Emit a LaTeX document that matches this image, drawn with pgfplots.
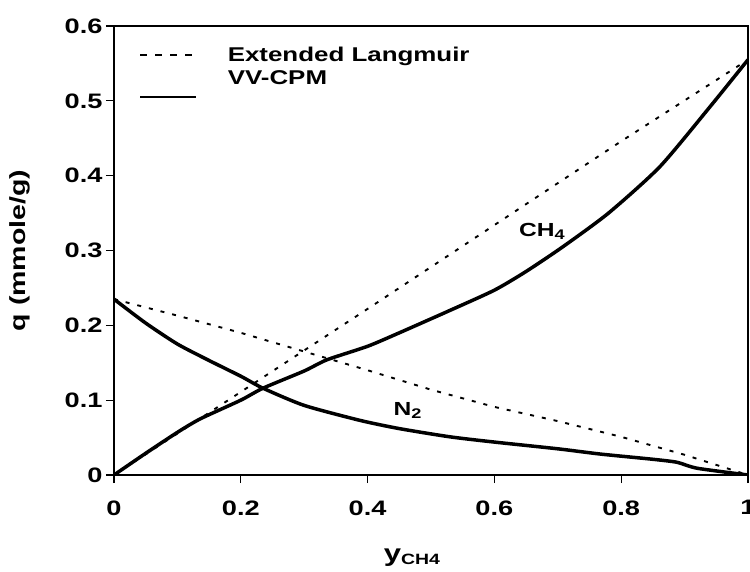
\documentclass[border=0pt]{standalone}
\usepackage{fontspec}
\setmainfont{Liberation Sans}[FakeStretch=1.3]
\usepackage{pgfplots}
\pgfplotsset{compat=1.18}
\usepackage{pgfplotstable}

% Extended Langmuir predictions
\pgfplotstableread{
x q
0 0
0.2 0.111
0.4 0.222
0.6 0.334
0.8 0.446
1 0.555
}\elch
\pgfplotstableread{
x q
0 0.235
0.1 0.213
0.2 0.19
0.3 0.165
0.4 0.14
0.5 0.114
0.6 0.091
0.7 0.072
0.8 0.051
0.9 0.027
1 0
}\eln
% VV-CPM predictions
\pgfplotstableread{
x q
0 0
0.05 0.029
0.1 0.057
0.136 0.075
0.2 0.1
0.235 0.116
0.3 0.139
0.336 0.154
0.4 0.172
0.45 0.19
0.53 0.22
0.6 0.247
0.65 0.272
0.708 0.305
0.78 0.35
0.861 0.412
0.94 0.492
1 0.555
}\vvch
\pgfplotstableread{
x q
0 0.235
0.05 0.203
0.1 0.175
0.15 0.153
0.2 0.132
0.235 0.116
0.3 0.093
0.388 0.073
0.45 0.062
0.53 0.051
0.6 0.044
0.7 0.035
0.767 0.028
0.85 0.021
0.888 0.017
0.92 0.009
1 0
}\vvn

\begin{document}
\begin{tikzpicture}
\begin{axis}[
  at={(0,0)}, anchor=south west,
  scale only axis, width=634bp, height=449bp,
  xmin=0, xmax=1, ymin=0, ymax=0.6,
  xtick={0,0.2,0.4,0.6,0.8,1},
  xticklabels={0,0.2,0.4,0.6,0.8,1},
  ytick={0,0.1,0.2,0.3,0.4,0.5,0.6},
  yticklabels={0,0.1,0.2,0.3,0.4,0.5,0.6},
  /pgf/number format/assume math mode=true,
  tick align=outside, xtick pos=lower, ytick pos=left,
  major tick length=8bp,
  tick style={line width=1.2bp, black},
  axis line style={line width=1.5bp},
  ticklabel style={font=\bfseries\fontsize{21}{23}\selectfont},
  xticklabel style={yshift=-14bp},
  yticklabel style={xshift=0bp},
  xlabel={\bfseries\fontsize{24}{26}\selectfont y\raisebox{-3bp}{\fontsize{15}{16}\selectfont CH4}},
  ylabel={\bfseries\fontsize{22}{24}\selectfont q (mmole/g)},
  xlabel style={at={(0.47,0)}, anchor=north, yshift=-70bp},
  ylabel style={at={(0,0.5)}, anchor=south, yshift=80bp},
  legend style={draw=none, fill=none, at={(rel axis cs:0,1)}, anchor=north west,
    xshift=22bp, yshift=-17bp, row sep=3bp, column sep=28bp,
    font=\bfseries\fontsize{20}{22}\selectfont,
    nodes={inner xsep=2bp, inner ysep=2bp}},
  legend cell align=left,
]
\addplot[black, line width=1.9bp, dash pattern=on 4bp off 8bp,
  legend image code/.code={\draw[black, line width=2.4bp, dash pattern=on 7bp off 8bp] (0bp,0bp) -- (54bp,0bp);}]
  table[x=x, y=q] {\elch};
\addlegendentry{Extended Langmuir}
\addplot[black, line width=3.5bp, smooth, tension=0.4,
  legend image code/.code={\draw[black, line width=2.6bp] (0bp,-19bp) -- (56bp,-19bp);}]
  table[x=x, y=q] {\vvch};
\addlegendentry{VV-CPM}
\addplot[black, line width=1.9bp, dash pattern=on 4bp off 8bp, forget plot]
  table[x=x, y=q] {\eln};
\addplot[black, line width=3.5bp, smooth, tension=0.4, forget plot]
  table[x=x, y=q] {\vvn};
\node[font=\bfseries\fontsize{19}{21}\selectfont] at (axis cs:0.675,0.325) {CH\raisebox{-3bp}{\fontsize{14}{15}\selectfont 4}};
\node[font=\bfseries\fontsize{19}{21}\selectfont] at (axis cs:0.463,0.086) {N\raisebox{-3bp}{\fontsize{14}{15}\selectfont 2}};
\end{axis}
\pgfresetboundingbox
\path[use as bounding box] (-114bp,-97bp) rectangle (636bp,475bp);
\end{tikzpicture}
\end{document}
